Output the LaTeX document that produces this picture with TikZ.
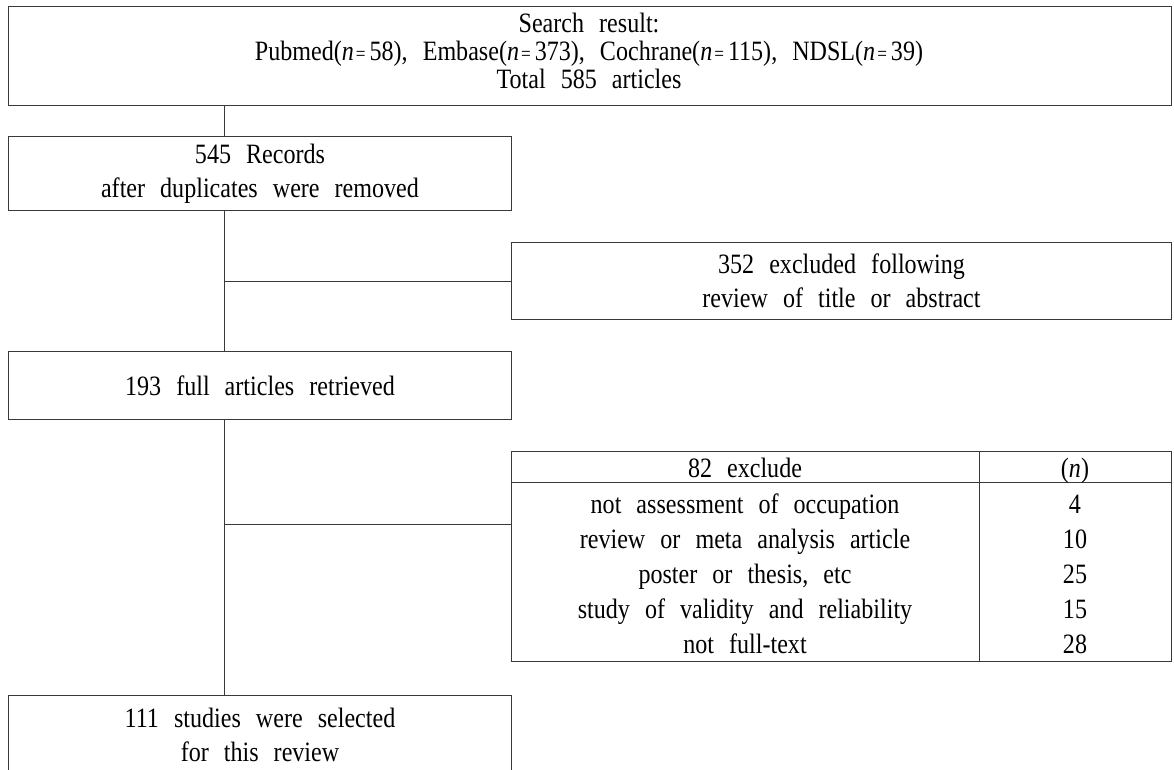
\documentclass[tikz,border=0pt]{standalone}
\usepackage{fontspec}
\setmainfont{Liberation Serif}[FakeStretch=0.86,WordSpace=2.5]
\newcommand{\mfs}{\fontsize{28}{34}\selectfont}
\newcommand{\eqs}{\hspace{2pt}{\fontsize{20}{20}\selectfont =}\hspace{4pt}}
\newcommand{\nn}[1]{(\textit{n}\eqs #1)}
\definecolor{boxcol}{HTML}{3A3A3A}
\tikzset{
  box/.style={draw=boxcol, line width=1pt, inner sep=0pt, anchor=north west, align=center, font=\mfs},
  link/.style={draw=boxcol, line width=1pt},
  rule/.style={draw=boxcol, line width=1pt},
  cell/.style={font=\mfs, inner sep=0pt, anchor=base}
}
\begin{document}
\begin{tikzpicture}[x=1pt,y=-1pt]
\useasboundingbox (0,0) rectangle (1174,769);
\fill[white] (0,0) rectangle (1174,769);
% boxes
\node[box, minimum width=1163pt, minimum height=99pt] (top) at (8,6) {};
\node[cell] (t1) at (589,32) {Search result:};
\node[cell] (t2) at (589,60) {Pubmed\nn{58}, Embase\nn{373}, Cochrane\nn{115}, NDSL\nn{39}};
\node[cell] (t3) at (589,88) {Total 585 articles};
\node[box, minimum width=503pt, minimum height=74pt] (rec) at (8,136)
  {545 Records\\ after duplicates were removed};
\node[box, minimum width=660pt, minimum height=77pt] (ex1) at (511,242)
  {352 excluded following\\ review of title or abstract};
\node[box, minimum width=503pt, minimum height=68pt] (ft) at (8,351)
  {193 full articles retrieved};
\node[box, minimum width=660pt, minimum height=210pt] (ex2) at (511,451) {};
\node[box, minimum width=503pt, minimum height=78pt] (sel) at (8,695)
  {111 studies were selected\\ for this review};
% table internals
\coordinate (hl) at (0,482);
\coordinate (cd) at (979,0);
\draw[rule] (ex2.west |- hl) -- (ex2.east |- hl);
\draw[rule] (cd |- ex2.north) -- (cd |- ex2.south);
\node[cell] (h1) at (745,477) {82 exclude};
\node[cell] (h2) at (1075,477) {(\textit{n})};
\node[cell] (r1) at (745,513) {not assessment of occupation};
\node[cell] (n1) at (1075,513) {4};
\node[cell] (r2) at (745,548) {review or meta analysis article};
\node[cell] (n2) at (1075,548) {10};
\node[cell] (r3) at (745,583) {poster or thesis, etc};
\node[cell] (n3) at (1075,583) {25};
\node[cell] (r4) at (745,618) {study of validity and reliability};
\node[cell] (n4) at (1075,618) {15};
\node[cell] (r5) at (745,653) {not full-text};
\node[cell] (n5) at (1075,653) {28};
% connectors
\coordinate (sp) at (224,0);
\draw[link] (top.south -| sp) -- (rec.north -| sp);
\draw[link] (rec.south -| sp) -- (ft.north -| sp);
\draw[link] (sp |- ex1.west) -- (ex1.west);
\draw[link] (ft.south -| sp) -- (sel.north -| sp);
\coordinate (j2) at (224,524);
\draw[link] (j2) -- (j2 -| ex2.west);
\end{tikzpicture}
\end{document}
